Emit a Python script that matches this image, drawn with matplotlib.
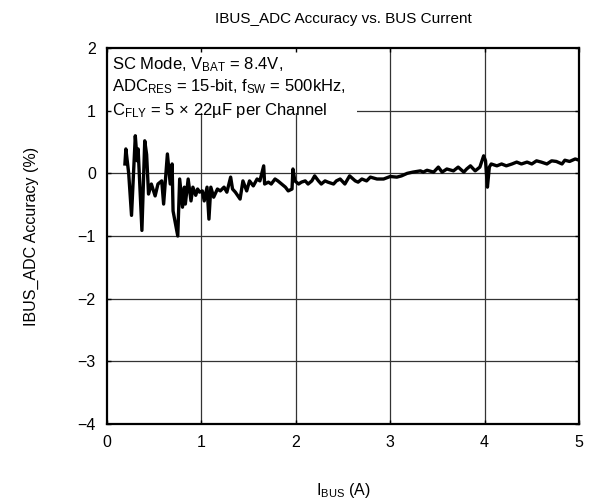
import matplotlib
matplotlib.use('Agg')
import matplotlib.pyplot as plt
import matplotlib.patches as mpatches

# ── data ──
ibus = [0.19, 0.20, 0.23, 0.26, 0.30, 0.32, 0.33, 0.37, 0.40, 0.42, 0.44, 0.47,
        0.51, 0.54, 0.58, 0.60, 0.63, 0.64, 0.67, 0.69, 0.70, 0.75, 0.77, 0.80,
        0.82, 0.83, 0.86, 0.89, 0.91, 0.94, 0.96, 0.98, 1.01, 1.03, 1.06, 1.08,
        1.10, 1.13, 1.17, 1.20, 1.24, 1.27, 1.31, 1.33, 1.36,
        1.41, 1.44, 1.48, 1.51, 1.55, 1.59, 1.62, 1.66, 1.67, 1.71, 1.74, 1.78,
        1.81, 1.85, 1.89, 1.92, 1.96, 1.97, 1.99, 2.03, 2.06, 2.10, 2.13, 2.17,
        2.20, 2.24, 2.27, 2.31, 2.34, 2.40, 2.43, 2.47, 2.52, 2.57, 2.63, 2.66,
        2.70, 2.75, 2.79, 2.86, 2.93, 3.00, 3.07, 3.12, 3.18,
        3.24, 3.32, 3.35, 3.39, 3.46, 3.51, 3.55, 3.60, 3.67, 3.72, 3.78, 3.81,
        3.85, 3.90, 3.95, 3.99, 4.01, 4.03, 4.05, 4.07, 4.13, 4.18, 4.23, 4.29,
        4.34, 4.39, 4.45, 4.50, 4.55, 4.60, 4.66, 4.71, 4.76, 4.82, 4.85, 4.90,
        4.96, 5.00]
accuracy = [0.15, 0.39, 0.00, -0.67, 0.60, 0.20, 0.39, -0.91, 0.52, 0.30, -0.33, -0.17,
            -0.36, -0.17, -0.12, -0.49, 0.10, 0.31, -0.17, 0.15, -0.60, -1.00, -0.09, -0.54,
            -0.22, -0.49, -0.09, -0.44, -0.22, -0.35, -0.25, -0.30, -0.28, -0.44, -0.22, -0.73,
            -0.22, -0.38, -0.25, -0.28, -0.22, -0.30, -0.06, -0.25, -0.30,
            -0.41, -0.12, -0.28, -0.12, -0.20, -0.09, -0.12, 0.12, -0.17, -0.14, -0.17, -0.09,
            -0.12, -0.17, -0.22, -0.28, -0.25, 0.07, -0.12, -0.17, -0.14, -0.12, -0.17, -0.12,
            -0.04, -0.12, -0.17, -0.12, -0.14, -0.17, -0.12, -0.09, -0.17, -0.04, -0.12, -0.14,
            -0.09, -0.12, -0.06, -0.09, -0.09, -0.05, -0.06, -0.04, 0.00,
            0.02, 0.04, 0.02, 0.05, 0.02, 0.10, 0.02, 0.07, 0.04, 0.10, 0.02, 0.07,
            0.12, 0.04, 0.10, 0.28, 0.20, -0.22, 0.10, 0.15, 0.12, 0.15, 0.12, 0.15,
            0.18, 0.15, 0.18, 0.15, 0.20, 0.18, 0.15, 0.20, 0.19, 0.15, 0.21, 0.19,
            0.23, 0.21]
xticks = [0, 1, 2, 3, 4, 5]
yticks = [-4, -3, -2, -1, 0, 1, 2]

plt.rcParams['font.family'] = ['Liberation Sans', 'DejaVu Sans']
plt.rcParams['mathtext.default'] = 'regular'

fig = plt.figure(figsize=(5.93, 5.03), dpi=100)
ax = fig.add_axes([0.1804, 0.157, 0.796, 0.7475])

ax.plot(ibus, accuracy, color='black', linewidth=2.4, zorder=3)

ax.set_xlim(0, 5)
ax.set_ylim(-4, 2)
ax.set_xticks(xticks)
ax.set_yticks(yticks)
ax.tick_params(direction='in', length=3, width=1, labelsize=11.5, pad=8,
               top=True, right=True, colors='black')

# grid drawn by hand so the note box can sit over it
for xv in xticks[1:-1]:
    ax.axvline(xv, color='#333333', linewidth=0.9, zorder=0.5)
for yv in yticks[1:-1]:
    ax.axhline(yv, color='#333333', linewidth=0.9, zorder=0.5)

for spine in ax.spines.values():
    spine.set_linewidth(1.6)

ax.add_patch(mpatches.Rectangle((0, 0.827), 0.53, 0.173, transform=ax.transAxes,
                                facecolor='white', edgecolor='none', zorder=1))
note_lines = [r'SC Mode, V$_{BAT}$ = 8.4V,',
              r'ADC$_{RES}$ = 15-bit, f$_{SW}$ = 500kHz,',
              r'C$_{FLY}$ = 5 × 22µF per Channel']
for ypos, s in zip([0.955, 0.896, 0.835], note_lines):
    ax.text(0.011, ypos, s, transform=ax.transAxes, fontsize=12,
            va='center', ha='left', zorder=2)

ax.set_title('IBUS_ADC Accuracy vs. BUS Current', fontsize=11, pad=18)
ax.set_xlabel(r'I$_{BUS}$ (A)', fontsize=11.5, labelpad=22)
ax.set_ylabel('IBUS_ADC Accuracy (%)', fontsize=11.5, labelpad=28)

plt.savefig('out.png', dpi=100)
